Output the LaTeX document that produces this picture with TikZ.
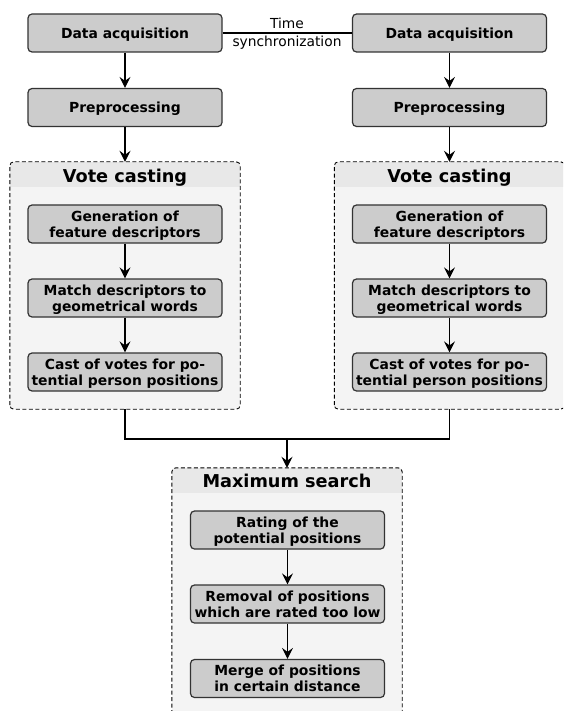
\documentclass[tikz,border=0pt]{standalone}
\usepackage{fontspec}
\setmainfont{DejaVu Sans}
\usetikzlibrary{arrows.meta}
\definecolor{boxgray}{HTML}{CCCCCC}
\definecolor{boxline}{HTML}{333333}
\definecolor{headgray}{HTML}{E8E8E8}
\definecolor{bodygray}{HTML}{F4F4F4}
\tikzset{
  stepbox/.style={draw=boxline, fill=boxgray, line width=1.2pt, rounded corners=4pt,
    minimum width=194pt, minimum height=38pt, inner sep=0pt, align=center,
    text depth=0pt, font=\bfseries\fontsize{13.9}{16}\selectfont},
  groupbox/.style={minimum width=230pt, inner sep=0pt},
  grouptitle/.style={font=\bfseries\fontsize{17.7}{20}\selectfont, inner sep=0pt, text depth=0pt},
  arr/.style={-{Stealth[length=11pt,width=11pt,inset=4pt]}, line width=1.2pt},
  conn/.style={line width=1.1pt},
}
\newcommand{\groupdraw}[1]{%
  \begin{scope}
    \clip[rounded corners=4pt] (#1.south west) rectangle (#1.north east);
    \fill[bodygray] (#1.south west) rectangle (#1.north east);
    \fill[headgray] (#1.north west) rectangle ([yshift=-25.5pt]#1.north east);
  \end{scope}
  \draw[dashed, dash pattern=on 4pt off 2.5pt, line width=0.9pt, rounded corners=4pt]
    (#1.south west) rectangle (#1.north east);
}
\begin{document}
\begin{tikzpicture}[x=1pt,y=-1pt]
\useasboundingbox (0,0) rectangle (563,711);
\clip (0,0) rectangle (563,711);
% group containers
\node[groupbox, minimum height=247pt] (vc1) at (125,285.5) {};
\node[groupbox, minimum height=247pt] (vc2) at (449.5,285.5) {};
\node[groupbox, minimum height=250pt] (ms) at (287,593) {};
\groupdraw{vc1}
\groupdraw{vc2}
\groupdraw{ms}
\node[grouptitle] (vc1t) at (125,175.5) {Vote casting};
\node[grouptitle] (vc2t) at (449.5,175.5) {Vote casting};
\node[grouptitle] (mst) at (287,481) {Maximum search};
% left column
\node[stepbox] (da1) at (125,33) {Data acquisition};
\node[stepbox] (pp1) at (125,107.5) {Preprocessing};
\node[stepbox] (g1) at (125,224) {Generation of\\feature descriptors};
\node[stepbox] (m1) at (125,298) {Match descriptors to\\geometrical words};
\node[stepbox] (c1) at (125,372) {Cast of votes for po-\\tential person positions};
% right column
\node[stepbox] (da2) at (449.5,33) {Data acquisition};
\node[stepbox] (pp2) at (449.5,107.5) {Preprocessing};
\node[stepbox] (g2) at (449.5,224) {Generation of\\feature descriptors};
\node[stepbox] (m2) at (449.5,298) {Match descriptors to\\geometrical words};
\node[stepbox] (c2) at (449.5,372) {Cast of votes for po-\\tential person positions};
% maximum search
\node[stepbox] (r) at (287.5,530) {Rating of the\\potential positions};
\node[stepbox] (rm) at (287.5,604) {Removal of positions\\which are rated too low};
\node[stepbox] (mg) at (287.5,678.5) {Merge of positions\\in certain distance};
% time sync
\draw[conn] (da1) -- (da2);
\node[align=center, font=\fontsize{13.8}{18}\selectfont, inner sep=0pt] (ts) at (287,33.5) {Time\\synchronization};
% arrows
\draw[arr] (da1) -- (pp1);
\draw[arr] (pp1) -- (vc1.north);
\draw[arr] (g1) -- (m1);
\draw[arr] (m1) -- (c1);
\draw[arr] (da2) -- (pp2);
\draw[arr] (pp2) -- (vc2.north);
\draw[arr] (g2) -- (m2);
\draw[arr] (m2) -- (c2);
\draw[arr] (r) -- (rm);
\draw[arr] (rm) -- (mg);
\coordinate (j) at (287,439);
\draw[conn] (vc1.south) |- (j) -| (vc2.south);
\draw[arr] (j) -- (ms.north);
\end{tikzpicture}
\end{document}
